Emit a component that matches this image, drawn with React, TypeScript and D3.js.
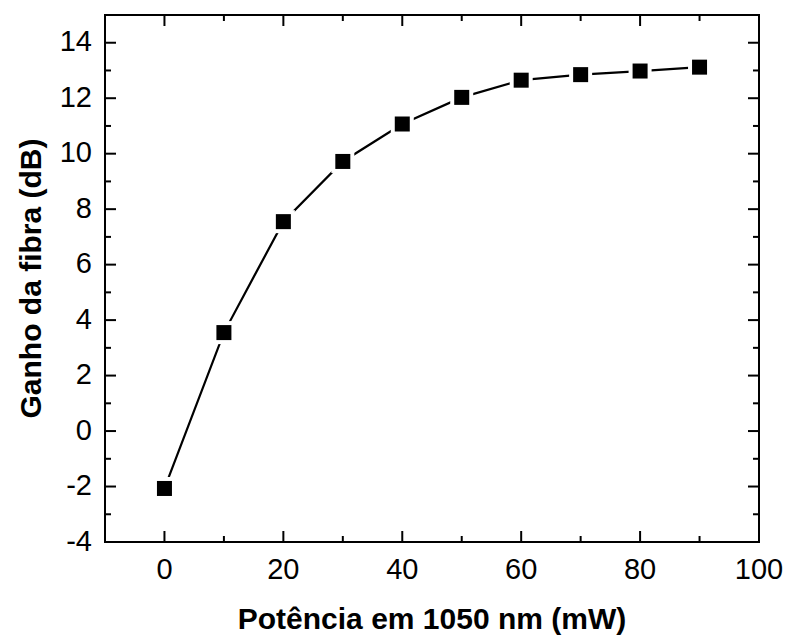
import React from "react";
import * as d3 from "d3";

const powerMW = [0, 10, 20, 30, 40, 50, 60, 70, 80, 90];
const gainDB = [-2.07, 3.55, 7.55, 9.72, 11.07, 12.03, 12.65, 12.85, 12.98, 13.12];
const xTicks = [0, 20, 40, 60, 80, 100];
const yTicks = [-4, -2, 0, 2, 4, 6, 8, 10, 12, 14];
const xMinor = [-10, 10, 30, 50, 70, 90];
const yMinor = [-3, -1, 1, 3, 5, 7, 9, 11, 13];
const xTitle = "Potência em 1050 nm (mW)";
const yTitle = "Ganho da fibra (dB)";

export default function App() {
  const W = 787, H = 637;
  const L = 105, R = 759, T = 15, B = 542;
  const x = d3.scaleLinear().domain([-10, 100]).range([L, R]);
  const y = d3.scaleLinear().domain([-4, 15]).range([B, T]);
  const font = "'Liberation Sans', Arial, sans-serif";
  const maj = 11, mnr = 6;
  const line = d3.line<number>().x((_, i) => x(powerMW[i])).y((d) => y(d));
  const ms = 15;
  return (
    <svg width={W} height={H} style={{ position: "absolute", left: 0, top: 0 }}>
      <rect width={W} height={H} fill="white" />
      <path d={line(gainDB) || ""} fill="none" stroke="black" strokeWidth={2.2} />
      {gainDB.map((v, i) => (
        <g key={i}>
          <rect x={x(powerMW[i]) - ms / 2 - 4} y={y(v) - ms / 2 - 4} width={ms + 8} height={ms + 8} fill="white" />
          <rect x={x(powerMW[i]) - ms / 2} y={y(v) - ms / 2} width={ms} height={ms} fill="black" />
        </g>
      ))}
      <rect x={L} y={T} width={R - L} height={B - T} fill="none" stroke="black" strokeWidth={2} />
      {xTicks.map((t) => (
        <g key={"xt" + t}>
          <line x1={x(t)} x2={x(t)} y1={B} y2={B - maj} stroke="black" strokeWidth={2} />
          <line x1={x(t)} x2={x(t)} y1={T} y2={T + maj} stroke="black" strokeWidth={2} />
          <text x={x(t)} y={579} textAnchor="middle" fontFamily={font} fontSize={29}>{t}</text>
        </g>
      ))}
      {xMinor.map((t) => (
        <g key={"xm" + t}>
          <line x1={x(t)} x2={x(t)} y1={B} y2={B - mnr} stroke="black" strokeWidth={2} />
          <line x1={x(t)} x2={x(t)} y1={T} y2={T + mnr} stroke="black" strokeWidth={2} />
        </g>
      ))}
      {yTicks.map((t) => (
        <g key={"yt" + t}>
          <line x1={L} x2={L + maj} y1={y(t)} y2={y(t)} stroke="black" strokeWidth={2} />
          <line x1={R} x2={R - maj} y1={y(t)} y2={y(t)} stroke="black" strokeWidth={2} />
          <text x={92} y={y(t)} dy="0.3em" textAnchor="end" fontFamily={font} fontSize={29}>{t}</text>
        </g>
      ))}
      {yMinor.map((t) => (
        <g key={"ym" + t}>
          <line x1={L} x2={L + mnr} y1={y(t)} y2={y(t)} stroke="black" strokeWidth={2} />
          <line x1={R} x2={R - mnr} y1={y(t)} y2={y(t)} stroke="black" strokeWidth={2} />
        </g>
      ))}
      <text x={(L + R) / 2} y={629} textAnchor="middle" fontFamily={font} fontSize={30} fontWeight="bold">{xTitle}</text>
      <text transform={`translate(41,${(T + B) / 2}) rotate(-90)`} textAnchor="middle" fontFamily={font} fontSize={30} fontWeight="bold">{yTitle}</text>
    </svg>
  );
}
